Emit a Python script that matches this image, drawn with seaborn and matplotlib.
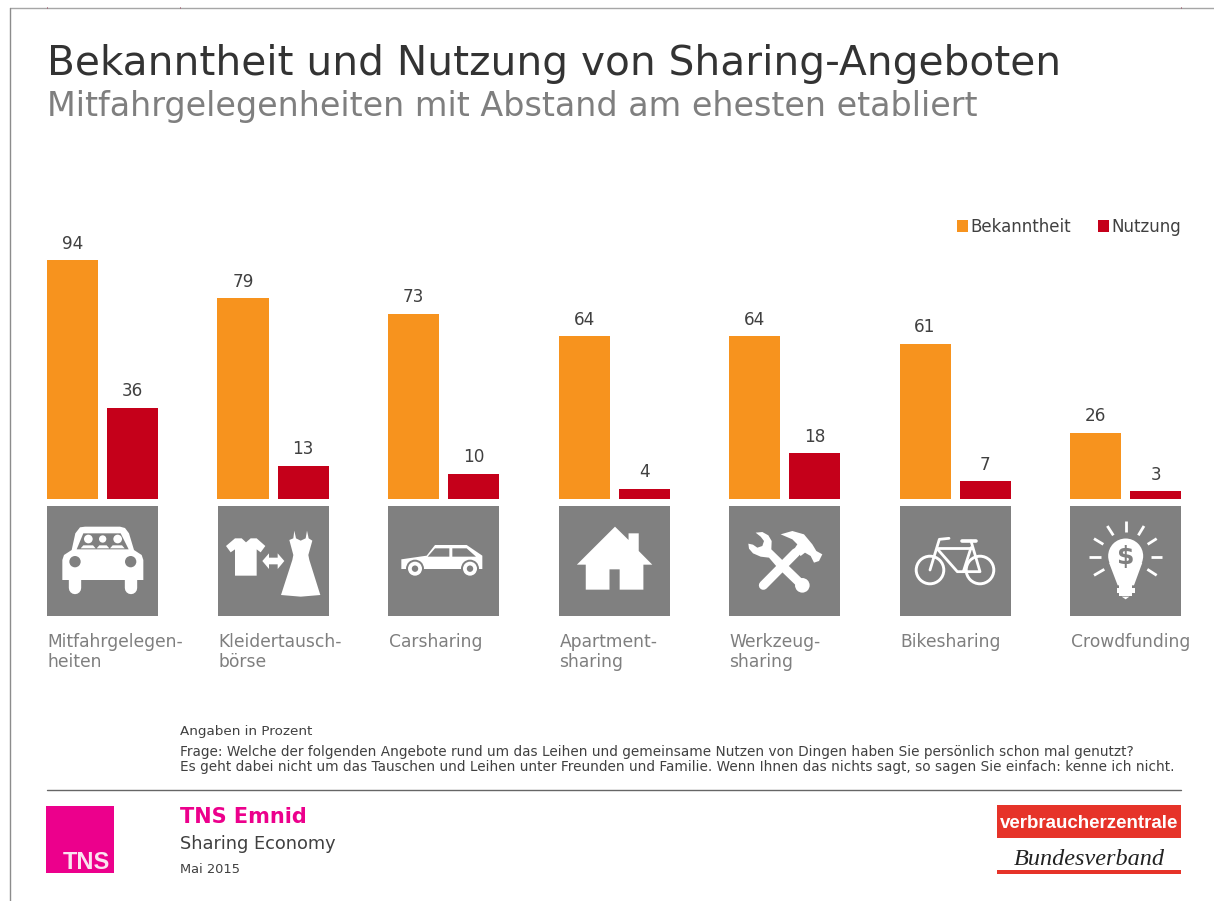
import matplotlib
matplotlib.use("Agg")
import matplotlib.pyplot as plt
from matplotlib.patches import Circle, Polygon, Rectangle
import pandas as pd
import seaborn as sns

# === Data ===
categories = ["Mitfahrgelegenheiten", "Kleidertauschbörse", "Carsharing",
              "Apartmentsharing", "Werkzeugsharing", "Bikesharing", "Crowdfunding"]
labels = ["Mitfahrgelegen-\nheiten", "Kleidertausch-\nbörse", "Carsharing",
          "Apartment-\nsharing", "Werkzeug-\nsharing", "Bikesharing", "Crowdfunding"]
bekanntheit = [94, 79, 73, 64, 64, 61, 26]
nutzung = [36, 13, 10, 4, 18, 7, 3]

GRAY = "#808080"
WHITE = "white"
W, H = 1214, 901


def px_rect(left, top, right, bottom):
    return [left / W, 1 - bottom / H, (right - left) / W, (bottom - top) / H]


df = pd.DataFrame({
    "Angebot": categories * 2,
    "Serie": ["Bekanntheit"] * 7 + ["Nutzung"] * 7,
    "Wert": bekanntheit + nutzung,
})

sns.set_theme(style="white")
plt.rcParams["font.family"] = ["DejaVu Sans"]

fig = plt.figure(figsize=(W / 100, H / 100), dpi=100, facecolor="white")

# === Bars ===
ax = fig.add_axes(px_rect(47, 245, 1181, 499))
sns.barplot(data=df, x="Angebot", y="Wert", hue="Serie", ax=ax,
            palette={"Bekanntheit": "#F7931E", "Nutzung": "#C5001A"},
            width=0.704, gap=0.15, saturation=1, errorbar=None, linewidth=0)
ax.set_xlim(-0.3255, 6.325)
ax.set_ylim(0, 100)
ax.axis("off")
for container in ax.containers:
    ax.bar_label(container, fontsize=12.2, color="#404040", padding=5.5)
sns.move_legend(ax, loc="upper right", bbox_to_anchor=(1.0, 1.108), ncol=2,
                frameon=False, title=None, fontsize=12, handlelength=0.7,
                handleheight=0.7, handletextpad=0.12, columnspacing=1.6,
                labelcolor="#404040", borderpad=0, borderaxespad=0)

# === Overlay in pixel coordinates ===
ov = fig.add_axes([0, 0, 1, 1], facecolor="none")
ov.set_xlim(0, W)
ov.set_ylim(H, 0)
ov.axis("off")


def z1(pts):
    return [(30 + x / 3, 490 + y / 3) for x, y in pts]


def z2(pts):
    return [(540 + x / 2.36, 490 + y / 3) for x, y in pts]


def local(left, pts):
    return [(left + x / 3, 506 + y / 3) for x, y in pts]


def poly(pts, color=WHITE):
    ov.add_patch(Polygon(pts, closed=True, facecolor=color, edgecolor="none"))


def circle(x, y, r, color=WHITE):
    ov.add_patch(Circle((x, y), r, facecolor=color, edgecolor="none"))


def stroke(pts, lw=2.0, color=WHITE, cap="round"):
    ov.plot([p[0] for p in pts], [p[1] for p in pts], color=color, lw=lw,
            solid_capstyle=cap, solid_joinstyle="round")


def icon_carpool():
    poly(z1([(150, 112), (165, 110), (270, 110), (285, 114), (297, 130), (312, 180),
             (335, 195), (340, 210), (340, 270), (97, 270), (97, 210), (102, 195),
             (125, 180), (136, 130)]))
    for x in (134, 302):
        stroke(z1([(x, 270), (x, 294)]), lw=8.9)
    poly(z1([(160, 130), (272, 130), (296, 178), (140, 178)]), GRAY)
    for x, r in ((175, 13), (218, 11), (263, 13)):
        cx, cy = z1([(x, 147)])[0]
        circle(cx, cy, r / 3)
    for a, b in ((152, 197), (200, 238), (240, 284)):
        poly(z1([(a, 175), (a + 8, 166), (b - 8, 166), (b, 175)]))
    for x in (135, 302):
        cx, cy = z1([(x, 215)])[0]
        circle(cx, cy, 17 / 3, GRAY)


def icon_clothes():
    poly(z1([(588, 168), (615, 145), (635, 145), (648, 157), (662, 145), (680, 145),
             (706, 168), (692, 187), (680, 178), (680, 257), (615, 257), (615, 178),
             (602, 187)]))
    poly(z1([(697, 213), (717, 190), (717, 203), (743, 203), (743, 190), (763, 213),
             (743, 237), (743, 223), (717, 223), (717, 237)]))
    poly(z1([(778, 150), (790, 145), (793, 122), (798, 145), (812, 152), (827, 145),
             (831, 122), (836, 145), (847, 152), (835, 195), (838, 210), (871, 315),
             (812, 320), (753, 315), (787, 210), (790, 195)]))


def icon_car():
    poly(z1([(1114, 208), (1190, 197), (1215, 165), (1310, 165), (1357, 197),
             (1357, 237), (1114, 237)]))
    poly(z1([(1193, 200), (1215, 175), (1258, 175), (1258, 200)]), GRAY)
    poly(z1([(1267, 175), (1310, 175), (1338, 200), (1267, 200)]), GRAY)
    for x in (1155, 1320):
        cx, cy = z1([(x, 236)])[0]
        circle(cx, cy, 9, GRAY)
        circle(cx, cy, 7)
        circle(cx, cy, 3.2, GRAY)


def icon_house():
    poly(z2([(87, 224), (177, 110), (209, 150), (209, 130), (233, 130), (233, 183),
             (265, 224), (244, 224), (244, 299), (188, 299), (188, 238), (164, 238),
             (164, 299), (108, 299), (108, 224)]))


def icon_tools():
    left = 729
    # wrench
    poly(local(left, [(80, 80), (100, 78), (118, 88), (128, 105), (127, 130), (170, 172),
                      (150, 190), (120, 155), (95, 152), (72, 142), (60, 128), (58, 113),
                      (72, 116), (85, 125), (100, 120), (105, 105), (95, 92)]))
    stroke(local(left, [(160, 180), (220, 238)]), lw=6.5)
    cx, cy = local(left, [(220, 238)])[0]
    circle(cx, cy, 7.3)
    circle(cx, cy, 2.7, GRAY)
    # hammer
    stroke(local(left, [(200, 140), (103, 238)]), lw=6.5)
    poly(local(left, [(155, 85), (190, 75), (225, 85), (250, 115), (262, 135), (280, 145),
                      (270, 165), (255, 170), (245, 150), (228, 140), (215, 150),
                      (195, 130), (205, 115), (190, 100)]))


def icon_bike():
    left = 900
    for x in (90, 240):
        cx, cy = local(left, [(x, 192)])[0]
        ov.add_patch(Circle((cx, cy), 13.8, facecolor="none", edgecolor=WHITE, lw=2.1))
    stroke(local(left, [(90, 192), (118, 100), (147, 97)]))
    stroke(local(left, [(113, 125), (215, 125)]))
    stroke(local(left, [(113, 130), (172, 197), (240, 197), (213, 105)]))
    stroke(local(left, [(213, 125), (190, 197)]))
    stroke(local(left, [(185, 105), (227, 105)]), lw=2.6)


def icon_bulb():
    left = 1070
    cx, cy = local(left, [(167, 150)])[0]
    circle(cx, cy, 17.5)
    poly(local(left, [(117, 170), (217, 170), (192, 238), (143, 238)]))
    poly(local(left, [(140, 245), (195, 245), (195, 262), (140, 262)]))
    poly(local(left, [(148, 238), (187, 238), (187, 270), (148, 270)]))
    poly(local(left, [(155, 272), (178, 272), (167, 280)]))
    ov.text(cx, cy + 1, "$", color=GRAY, fontsize=18, fontweight="bold",
            ha="center", va="center")
    rays = [[(167, 45), (167, 78)], [(112, 60), (130, 88)], [(222, 60), (205, 88)],
            [(72, 98), (100, 115)], [(260, 98), (233, 115)], [(58, 153), (92, 153)],
            [(275, 153), (242, 153)], [(72, 208), (103, 190)], [(260, 208), (232, 190)]]
    for ray in rays:
        stroke(local(left, ray), lw=2.0, cap="butt")


icons = [icon_carpool, icon_clothes, icon_car, icon_house, icon_tools, icon_bike, icon_bulb]
lefts = [47, 218, 388, 559, 729, 900, 1070]
for left, label, draw_icon in zip(lefts, labels, icons):
    ov.add_patch(Rectangle((left, 506), 111, 110, facecolor=GRAY, edgecolor="none"))
    draw_icon()
    for i, line in enumerate(label.split("\n")):
        ov.text(left + 0.5, 647 + 20 * i, line, fontsize=12.3, color="#7f7f7f",
                va="baseline", ha="left")

# === Page frame ===
ov.plot([9.5, 1214], [8, 8], color="#a6a6a6", lw=1)
ov.plot([9.5, 9.5], [8, 901], color="#8c8c8c", lw=1)
for x in (47, 180, 1181):
    ov.plot([x, x], [6.5, 7.5], color="#a06070", lw=0.6)
ov.plot([47, 1181], [790, 790], color="#666666", lw=1)

# === Title ===
ov.text(47, 75, "Bekanntheit und Nutzung von Sharing-Angeboten", fontsize=29.25,
        color="#333333", va="baseline")
ov.text(47, 116, "Mitfahrgelegenheiten mit Abstand am ehesten etabliert", fontsize=24,
        color="#7f7f7f", va="baseline")

# === Notes ===
ov.text(180, 735, "Angaben in Prozent", fontsize=9.7, color="#404040", va="baseline")
ov.text(180, 756, "Frage: Welche der folgenden Angebote rund um das Leihen und gemeinsame "
        "Nutzen von Dingen haben Sie persönlich schon mal genutzt?", fontsize=9.77,
        color="#404040", va="baseline")
ov.text(180, 771, "Es geht dabei nicht um das Tauschen und Leihen unter Freunden und Familie. "
        "Wenn Ihnen das nichts sagt, so sagen Sie einfach: kenne ich nicht.", fontsize=9.85,
        color="#404040", va="baseline")

# === Footer ===
ov.add_patch(Rectangle((46, 806), 68, 67, facecolor="#EC008C", edgecolor="none"))
ov.text(110, 869, "TNS", fontsize=17, fontweight="bold", color="#fbe3f0",
        family="Liberation Sans", ha="right", va="baseline")
ov.text(180, 823, "TNS Emnid", fontsize=15, fontweight="bold", color="#EC008C", va="baseline")
ov.text(180, 849, "Sharing Economy", fontsize=12.75, color="#404040", va="baseline")
ov.text(180, 873, "Mai 2015", fontsize=9.4, color="#404040", va="baseline")

# === Verbraucherzentrale logo ===
ov.add_patch(Rectangle((997, 805), 184, 33, facecolor="#E63329", edgecolor="none"))
ov.add_patch(Rectangle((997, 870), 184, 4, facecolor="#E63329", edgecolor="none"))
ov.text(1089, 828, "verbraucherzentrale", fontsize=13.5, fontweight="bold", color="white",
        family="Liberation Sans", ha="center", va="baseline")
ov.text(1089, 865, "Bundesverband", fontsize=17.5, style="italic", color="#222222",
        family="Liberation Serif", ha="center", va="baseline")

fig.savefig("out.png", dpi=100, facecolor="white")
